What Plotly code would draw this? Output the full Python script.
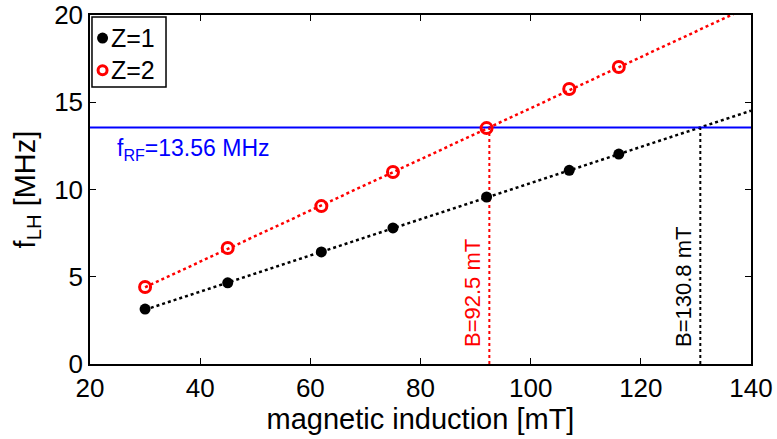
import plotly.graph_objects as go

# Measured lower-hybrid frequency vs magnetic induction
b_z1 = [30, 45, 62, 75, 92, 107, 116]
f_z1 = [3.15, 4.65, 6.42, 7.8, 9.57, 11.1, 12.03]

b_z2 = [30, 45, 62, 75, 92, 107, 116]
f_z2 = [4.41, 6.65, 9.05, 11.0, 13.52, 15.76, 17.02]

# RF frequency and resonance fields
f_rf = 13.56
b_res_z1 = 130.8
b_res_z2 = 92.5

series_names = ["Z=1", "Z=2"]

# Linear fits through the origin, extended across the axis range
fit_x = [30, 140]
fit_z1 = [x * f_rf / b_res_z1 for x in fit_x]
fit_z2 = [x * f_rf / b_res_z2 for x in fit_x]

FONT = "Liberation Sans, Arial, Helvetica, sans-serif"

fig = go.Figure()

# fit lines
fig.add_trace(go.Scatter(x=fit_x, y=fit_z1, mode="lines", showlegend=False,
                         line=dict(color="black", width=2.5, dash="dot")))
fig.add_trace(go.Scatter(x=fit_x, y=fit_z2, mode="lines", showlegend=False,
                         line=dict(color="red", width=2.5, dash="dot")))

# RF line
fig.add_trace(go.Scatter(x=[20, 140], y=[f_rf, f_rf], mode="lines", showlegend=False,
                         line=dict(color="#0000ff", width=2)))

# resonance drop lines
fig.add_trace(go.Scatter(x=[b_res_z2, b_res_z2], y=[0, f_rf], mode="lines", showlegend=False,
                         line=dict(color="red", width=2, dash="dot")))
fig.add_trace(go.Scatter(x=[b_res_z1, b_res_z1], y=[0, f_rf], mode="lines", showlegend=False,
                         line=dict(color="black", width=2, dash="dot")))

# data points
fig.add_trace(go.Scatter(x=b_z1, y=f_z1, mode="markers", name=series_names[0], showlegend=False,
                         marker=dict(symbol="circle", size=11, color="black")))
fig.add_trace(go.Scatter(x=b_z2, y=f_z2, mode="markers", name=series_names[1], showlegend=False,
                         marker=dict(symbol="circle-open", size=11, color="red",
                                     line=dict(width=3, color="red"))))

fig.add_annotation(x=24.6, y=f_rf - 0.35, xref="x", yref="y", xanchor="left", yanchor="top",
                   text="f<sub>RF</sub>=13.56 MHz", showarrow=False,
                   font=dict(family=FONT, size=23, color="#0000ff"))
fig.add_annotation(x=b_res_z2, y=0.85, xref="x", yref="y", xanchor="right", yanchor="bottom",
                   xshift=-3, text=f"B={b_res_z2} mT", textangle=-90, showarrow=False,
                   font=dict(family=FONT, size=22, color="red"))
fig.add_annotation(x=b_res_z1, y=0.85, xref="x", yref="y", xanchor="right", yanchor="bottom",
                   xshift=-3, text=f"B={b_res_z1} mT", textangle=-90, showarrow=False,
                   font=dict(family=FONT, size=22, color="black"))

# legend box in the upper-left corner of the axes
fig.add_shape(type="rect", xref="paper", yref="paper", x0=0.003, x1=0.115, y0=0.794, y1=0.994,
              line=dict(color="black", width=1.5), fillcolor="white", layer="above")
legend_rows = [(0.934, dict(fillcolor="black", line=dict(color="black", width=0)), 5.5),
               (0.842, dict(fillcolor="rgba(0,0,0,0)", line=dict(color="red", width=3)), 4.5)]
for (ly, style, r), label in zip(legend_rows, series_names):
    fig.add_shape(type="circle", xref="paper", yref="paper", xsizemode="pixel", ysizemode="pixel",
                  xanchor=0.019, yanchor=ly, x0=-r, x1=r, y0=-r, y1=r, layer="above", **style)
    fig.add_annotation(x=0.029, y=ly, xref="paper", yref="paper", xanchor="left", yanchor="middle",
                       text=label, showarrow=False,
                       font=dict(family=FONT, size=25, color="black"))

axis_common = dict(showgrid=False, zeroline=False, showline=True, linecolor="black",
                   linewidth=1.5, mirror="ticks", ticks="inside", ticklen=6,
                   tickwidth=1.2, tickcolor="black", automargin=False,
                   tickfont=dict(family=FONT, size=26, color="black"))

fig.update_xaxes(range=[20, 140], tick0=20, dtick=20,
                 title=dict(text="magnetic induction [mT]", standoff=3,
                            font=dict(family=FONT, size=29, color="black")),
                 **axis_common)
fig.update_yaxes(range=[0, 20], tick0=0, dtick=5,
                 title=dict(text="f<sub>LH</sub> [MHz]", standoff=10,
                            font=dict(family=FONT, size=29, color="black")),
                 **axis_common)

fig.update_layout(
    width=777, height=439,
    margin=dict(l=90, r=26, t=15, b=75),
    plot_bgcolor="white", paper_bgcolor="white",
    font=dict(family=FONT, color="black"),
    showlegend=False,
)

fig.write_html("out.html")
